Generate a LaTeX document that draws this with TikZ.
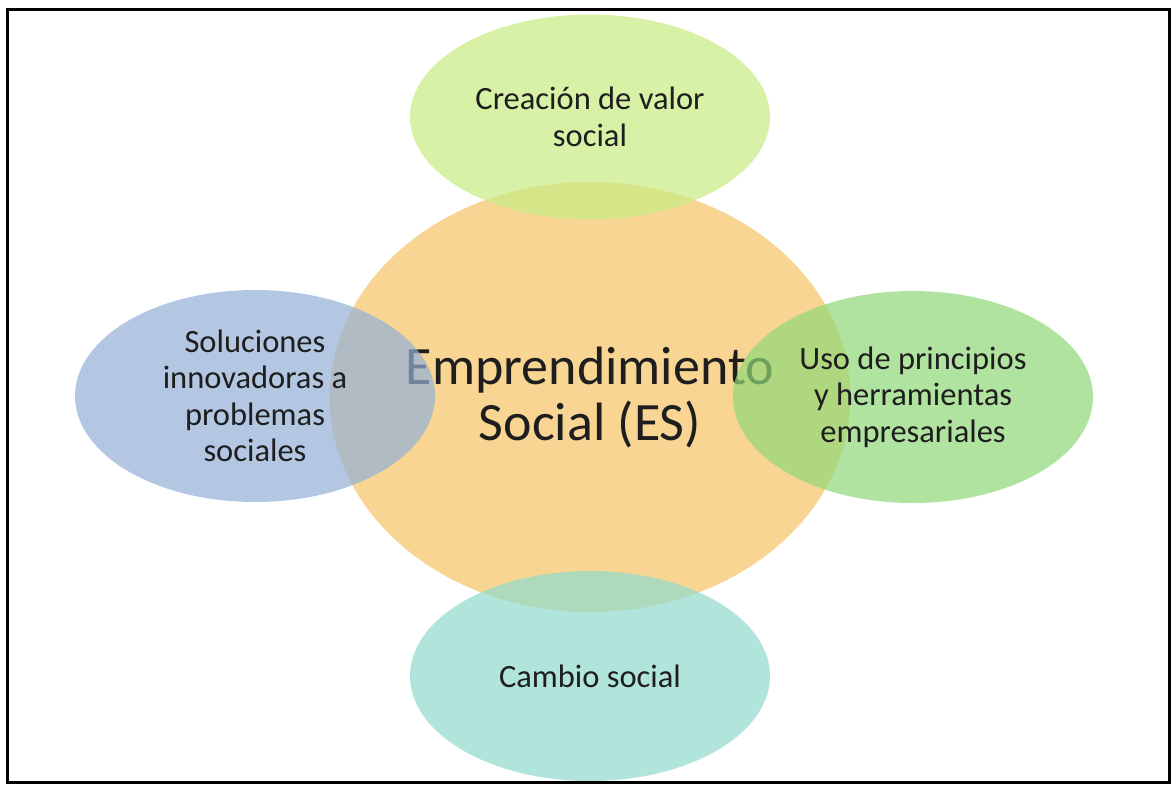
\documentclass[tikz,border=0pt]{standalone}
\usepackage{fontspec}
\setmainfont{Carlito}
\usetikzlibrary{shapes.geometric}
\definecolor{cOrange}{RGB}{248,213,146}
\definecolor{cTop}{RGB}{199,236,131}
\definecolor{cLeft}{RGB}{148,176,216}
\definecolor{cRight}{RGB}{145,216,120}
\definecolor{cBottom}{RGB}{145,219,205}
\definecolor{cText}{RGB}{30,30,30}
\begin{document}
\begin{tikzpicture}[x=1pt,y=-1pt,
  bubble/.style={ellipse, inner sep=0pt, align=center, fill opacity=0.7, text opacity=1, text=cText},
  small/.style={font=\fontsize{32.5}{36.5}\selectfont},
  big/.style={font=\fontsize{54}{56}\selectfont}]
\useasboundingbox (0,0) rectangle (1173,785);
\fill[white] (0,0) rectangle (1173,785);
\node[ellipse, inner sep=0pt, align=center, fill=cOrange, text=cText, minimum width=510, minimum height=430, big] (es) at (590,397) {Emprendimiento\\Social (ES)};
\node[bubble, fill=cTop, minimum width=360, minimum height=205, small] (top) at (590,117) {Creación de valor\\social};
\node[bubble, fill=cLeft, minimum width=360, minimum height=212, small] (left) at (255,396) {Soluciones\\innovadoras a\\problemas\\sociales};
\node[bubble, fill=cRight, minimum width=360, minimum height=212, small] (right) at (913,397) {Uso de principios\\y herramientas\\empresariales};
\node[bubble, fill=cBottom, minimum width=360, minimum height=210, small] (bottom) at (590,676) {Cambio social};
\draw[line width=3pt] (7.5,9.5) rectangle (1169,782);
\end{tikzpicture}
\end{document}
